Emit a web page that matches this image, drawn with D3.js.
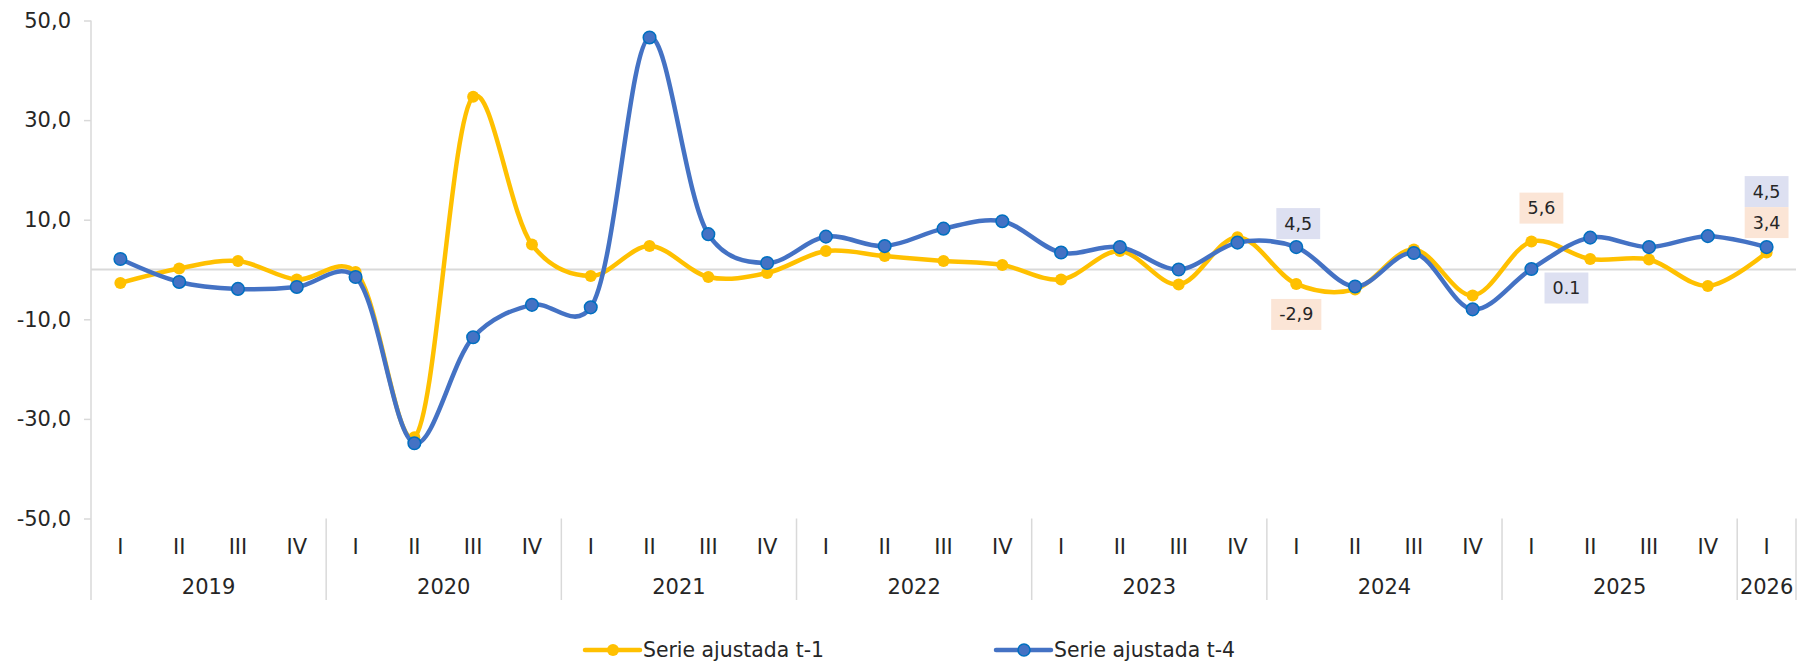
<!DOCTYPE html>
<html>
<head>
<meta charset="utf-8">
<script src="https://cdn.jsdelivr.net/npm/d3@7"></script>
<style>
  html, body { margin: 0; padding: 0; background: #fff; }
  svg { display: block; font-family: "DejaVu Sans", sans-serif; }
</style>
</head>
<body>
<svg id="chart" width="1800" height="662"></svg>
<script>
// ---------- DATA ----------
const years = ["2019", "2020", "2021", "2022", "2023", "2024", "2025", "2026"];
const quarters = ["I", "II", "III", "IV"];
const quartersPerYear = [4, 4, 4, 4, 4, 4, 4, 1];

const serieT1 = [
  -2.7, 0.2, 1.7, -2.0,
  -0.5, -33.7, 34.7, 5.0,
  -1.3, 4.7, -1.5, -0.7,
  3.7, 2.7, 1.7, 0.9,
  -2.0, 3.7, -3.0, 6.5,
  -2.9, -4.0, 4.0, -5.2,
  5.6, 2.1, 2.0, -3.3,
  3.4
];
const serieT4 = [
  2.1, -2.5, -3.9, -3.5,
  -1.5, -34.9, -13.6, -7.1,
  -7.6, 46.6, 7.1, 1.3,
  6.6, 4.7, 8.2, 9.7,
  3.4, 4.5, 0.0, 5.4,
  4.5, -3.4, 3.3, -8.0,
  0.1, 6.4, 4.5, 6.7,
  4.5
];
const seriesNames = ["Serie ajustada t-1", "Serie ajustada t-4"];
const yTicks = [50, 30, 10, -10, -30, -50];
const yDomain = [-50, 50];

// indices of labelled points (2024 I, 2025 I, 2026 I)
const labelledT1 = [20, 24, 28];
const labelledT4 = [20, 24, 28];

// ---------- BUILD ----------
(function () {
const cats = [];
years.forEach((yr, yi) => {
  for (let q = 0; q < quartersPerYear[yi]; q++) cats.push({ key: yr + "-" + quarters[q], year: yr, q: quarters[q] });
});

const svg = d3.select("#chart");
const pLeft = 91, pRight = 1796, pTop = 20.5, pBottom = 518.5;

const x = d3.scaleBand().domain(cats.map(c => c.key)).range([pLeft, pRight]).padding(0);
const y = d3.scaleLinear().domain(yDomain).range([pBottom, pTop]);
const cx = i => x(cats[i].key) + x.bandwidth() / 2;

const gridColor = "#d9d9d9";
const textColor = "#262626";
const axisFont = 21;
const c1 = "#FFC000", c2 = "#4472C4", c2stroke = "#0070C0";
const fmt = v => d3.format(".1f")(v).replace(".", ",").replace("−", "-");

// y axis
const yAxis = d3.axisLeft(y).tickValues(yTicks).tickFormat(fmt).tickSize(7).tickPadding(13);
const gy = svg.append("g").attr("transform", `translate(${pLeft},0)`).call(yAxis);
gy.select(".domain").remove();
gy.selectAll(".tick line").attr("stroke", gridColor).attr("stroke-width", 1.5);
gy.selectAll(".tick text").attr("font-size", axisFont).attr("fill", textColor)
  .attr("font-family", "DejaVu Sans");

const catBottom = 600;
svg.append("line").attr("x1", pLeft).attr("x2", pLeft).attr("y1", pTop).attr("y2", catBottom)
  .attr("stroke", gridColor).attr("stroke-width", 1.5);

// zero line
svg.append("line").attr("x1", pLeft).attr("x2", pRight).attr("y1", y(0)).attr("y2", y(0))
  .attr("stroke", gridColor).attr("stroke-width", 2);

// x axis: quarter labels
const gx = svg.append("g");
gx.selectAll("text.q").data(cats).join("text")
  .attr("class", "q")
  .attr("x", (d, i) => cx(i))
  .attr("y", 547)
  .attr("text-anchor", "middle").attr("dominant-baseline", "central")
  .attr("font-size", axisFont).attr("fill", textColor)
  .text(d => d.q);

let idx = 0;
const yearGroups = years.map((yr, yi) => {
  const start = idx; idx += quartersPerYear[yi];
  return { year: yr, start, end: idx - 1 };
});
gx.selectAll("text.y").data(yearGroups).join("text")
  .attr("class", "y")
  .attr("x", d => (x(cats[d.start].key) + x(cats[d.end].key) + x.bandwidth()) / 2)
  .attr("y", 587)
  .attr("text-anchor", "middle").attr("dominant-baseline", "central")
  .attr("font-size", axisFont).attr("fill", textColor)
  .text(d => d.year);
gx.selectAll("line.sep").data(yearGroups).join("line")
  .attr("class", "sep")
  .attr("x1", d => x(cats[d.end].key) + x.bandwidth())
  .attr("x2", d => x(cats[d.end].key) + x.bandwidth())
  .attr("y1", pBottom).attr("y2", catBottom)
  .attr("stroke", gridColor).attr("stroke-width", 1.5);

// lines
const line = d3.line().x((d, i) => cx(i)).y(d => y(d)).curve(d3.curveCatmullRom.alpha(0.25));

function drawSeries(vals, color, r, stroke) {
  const g = svg.append("g");
  g.append("path").datum(vals).attr("d", line)
    .attr("fill", "none").attr("stroke", color).attr("stroke-width", 4.5)
    .attr("stroke-linecap", "round").attr("stroke-linejoin", "round");
  g.selectAll("circle").data(vals).join("circle")
    .attr("cx", (d, i) => cx(i)).attr("cy", d => y(d)).attr("r", r)
    .attr("fill", color).attr("stroke", stroke || "none").attr("stroke-width", stroke ? 1.5 : 0);
}
drawSeries(serieT1, c1, 6);
drawSeries(serieT4, c2, 6.3, c2stroke);

// data labels
const labelFont = 17.5;
function dataLabel(px, boxTop, txt, bg) {
  const g = svg.append("g");
  const t = g.append("text").attr("x", px).attr("y", boxTop + 15.5)
    .attr("text-anchor", "middle").attr("dominant-baseline", "central")
    .attr("font-size", labelFont).attr("fill", textColor).text(txt);
  const w = t.node().getComputedTextLength() + 16;
  g.insert("rect", "text").attr("x", px - w / 2).attr("y", boxTop).attr("width", w).attr("height", 31)
    .attr("fill", bg);
}
const peach = "#FBE5D6", lav = "#DDE0F1";
dataLabel(cx(labelledT4[0]) + 2, y(serieT4[labelledT4[0]]) - 39, fmt(serieT4[labelledT4[0]]), lav);
dataLabel(cx(labelledT1[0]), y(serieT1[labelledT1[0]]) + 15, fmt(serieT1[labelledT1[0]]), peach);
dataLabel(cx(labelledT1[1]) + 10, y(serieT1[labelledT1[1]]) - 49, fmt(serieT1[labelledT1[1]]), peach);
dataLabel(cx(labelledT4[1]) + 35, y(serieT4[labelledT4[1]]) + 3.5, fmt(serieT4[labelledT4[1]]).replace(",", "."), lav);
dataLabel(cx(labelledT4[2]), y(serieT4[labelledT4[2]]) - 71, fmt(serieT4[labelledT4[2]]), lav);
dataLabel(cx(labelledT1[2]), y(serieT4[labelledT4[2]]) - 40, fmt(serieT1[labelledT1[2]]), peach);

// legend
const legend = svg.append("g");
const legendItems = [
  { name: seriesNames[0], color: c1, stroke: null, x0: 585 },
  { name: seriesNames[1], color: c2, stroke: c2stroke, x0: 996 }
];
const ly = 650;
legendItems.forEach(it => {
  legend.append("line").attr("x1", it.x0).attr("x2", it.x0 + 55).attr("y1", ly).attr("y2", ly)
    .attr("stroke", it.color).attr("stroke-width", 4.5).attr("stroke-linecap", "round");
  legend.append("circle").attr("cx", it.x0 + 28).attr("cy", ly).attr("r", 6)
    .attr("fill", it.color).attr("stroke", it.stroke || "none").attr("stroke-width", it.stroke ? 1.5 : 0);
  legend.append("text").attr("x", it.x0 + 58).attr("y", ly).attr("dominant-baseline", "central")
    .attr("font-size", 20.4).attr("fill", textColor).text(it.name);
});
})();
</script>
</body>
</html>
